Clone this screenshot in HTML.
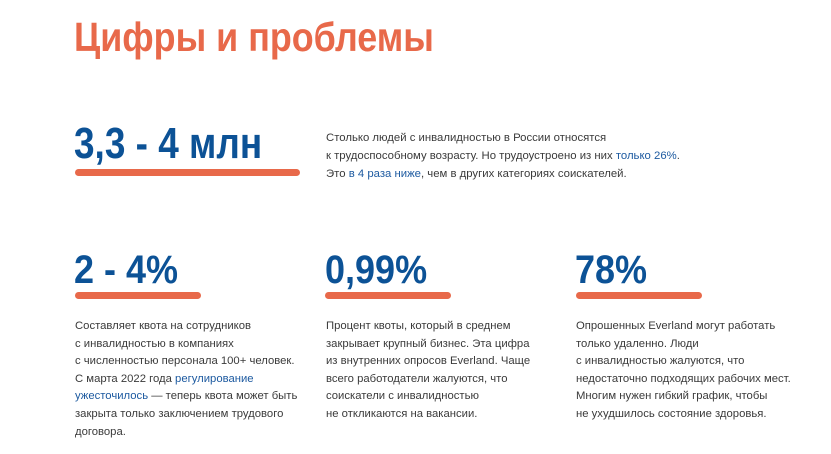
<!DOCTYPE html>
<html><head><meta charset="utf-8"><style>
body{margin:0;width:831px;height:454px;background:#fff;font-family:"Liberation Sans",Arial,sans-serif;position:relative;overflow:hidden}
h1{position:absolute;left:74px;top:14px;margin:0;font-size:41px;font-weight:bold;color:#e8694a;transform:scaleX(0.875);transform-origin:left top;white-space:nowrap}
.big{position:absolute;font-weight:bold;color:#0c5296;margin:0;line-height:1;transform-origin:left top;white-space:nowrap}
.bar{position:absolute;height:7px;border-radius:4px;background:#e8694a}
p{position:absolute;margin:0;font-size:11.3px;line-height:17.6px;color:#3a3a3a;white-space:nowrap}
a{color:#1d5aa0;text-decoration:none}
</style></head><body>
<h1>Цифры и проблемы</h1>
<div class="big" style="left:74px;top:122px;font-size:44px;transform:scaleX(0.84)">3,3 - 4 млн</div>
<div class="bar" style="left:75px;top:169px;width:225px"></div>
<p style="left:326px;top:129px;line-height:18px;font-size:11.35px">Столько людей с инвалидностью в России относятся<br>к трудоспособному возрасту. Но трудоустроено из них <a href="#">только 26%</a>.<br>Это <a href="#">в 4 раза ниже</a>, чем в других категориях соискателей.</p>

<div class="big" style="left:74px;top:250px;font-size:40px;transform:scaleX(0.9)">2 - 4%</div>
<div class="bar" style="left:75px;top:292px;width:126px"></div>
<p style="left:75px;top:318px">Составляет квота на сотрудников<br>с инвалидностью в компаниях<br>с численностью персонала 100+ человек.<br>С марта 2022 года <a href="#">регулирование<br>ужесточилось</a> — теперь квота может быть<br>закрыта только заключением трудового<br>договора.</p>

<div class="big" style="left:325px;top:250px;font-size:40px;transform:scaleX(0.9)">0,99%</div>
<div class="bar" style="left:325px;top:292px;width:126px"></div>
<p style="left:326px;top:318px">Процент квоты, который в среднем<br>закрывает крупный бизнес. Эта цифра<br>из внутренних опросов Everland. Чаще<br>всего работодатели жалуются, что<br>соискатели с инвалидностью<br>не откликаются на вакансии.</p>

<div class="big" style="left:575px;top:250px;font-size:40px;transform:scaleX(0.9)">78%</div>
<div class="bar" style="left:576px;top:292px;width:126px"></div>
<p style="left:576px;top:318px">Опрошенных Everland могут работать<br>только удаленно. Люди<br>с инвалидностью жалуются, что<br>недостаточно подходящих рабочих мест.<br>Многим нужен гибкий график, чтобы<br>не ухудшилось состояние здоровья.</p>
</body></html>
